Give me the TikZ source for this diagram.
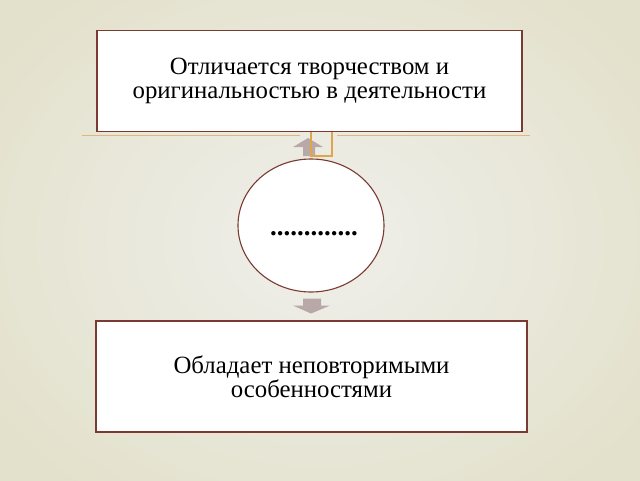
\documentclass[tikz,border=0pt]{standalone}
\usepackage{fontspec}
\setmainfont{Liberation Serif}
\usetikzlibrary{shapes.geometric,calc}
\definecolor{bgin}{HTML}{EFEFEB}
\definecolor{bgout}{HTML}{E3E1CB}
\definecolor{boxline}{HTML}{7A3A32}
\definecolor{bracket}{HTML}{E0A548}
\definecolor{deco}{HTML}{E2B67C}
\definecolor{arrowfill}{HTML}{B8A8A8}
\tikzset{
  textbox/.style={draw=boxline, line width=1.3pt, fill=white, rectangle, inner sep=0pt,
    align=center, font=\fontsize{24.8}{24.5}\selectfont},
  oval/.style={draw=boxline, line width=1.1pt, fill=white, ellipse, inner sep=0pt},
  dotstext/.style={font=\fontsize{27}{27}\selectfont\bfseries, inner sep=0pt},
  blockarrow/.style={fill=arrowfill, draw=none},
  bracketline/.style={draw=bracket, line width=1.5pt},
  decoline/.style={draw=deco, line width=1pt}
}
\begin{document}
\begin{tikzpicture}[x=1pt,y=-1pt]
\useasboundingbox (0,0) rectangle (640,480);
\shade[inner color=bgin, outer color=bgout] (-80,-80) rectangle (720,560);
% decorative line
\coordinate (dl1) at (82,135.5);
\coordinate (dl2) at (300,135.5);
\coordinate (dr1) at (337,135.5);
\coordinate (dr2) at (530,135.5);
\draw[decoline] (dl1) -- (dl2);
\draw[decoline] (dr1) -- (dr2);
% nodes
\node[textbox, minimum width=425pt, minimum height=101pt] (top) at (309.5,81)
  {Отличается творчеством и\\оригинальностью в деятельности};
\node[textbox, minimum width=431pt, minimum height=111pt] (bot) at (311.5,376.5)
  {Обладает неповторимыми\\особенностями};
\node[oval, minimum width=146pt, minimum height=133pt] (mid) at (311,225.5) {};
\node[dotstext, anchor=base] (dots) at (314,235) {.............};
% up arrow
\draw[blockarrow] (303,156) -- (303,147) -- (293,147) -- (308,138) -- (323,147) -- (315,147) -- (315,156) -- cycle;
% orange bracket
\draw[bracketline] (top.south -| 311,0) |- (332,156) -- (top.south -| 332,0);
% down arrow
\draw[blockarrow] ($(mid.south)+(-8,6)$) -- ($(mid.south)+(10,6)$) -- ($(mid.south)+(10,13)$) -- ($(mid.south)+(19,13)$)
  -- ($(mid.south)+(0,21)$) -- ($(mid.south)+(-18,13)$) -- ($(mid.south)+(-8,13)$) -- cycle;
\end{tikzpicture}
\end{document}
